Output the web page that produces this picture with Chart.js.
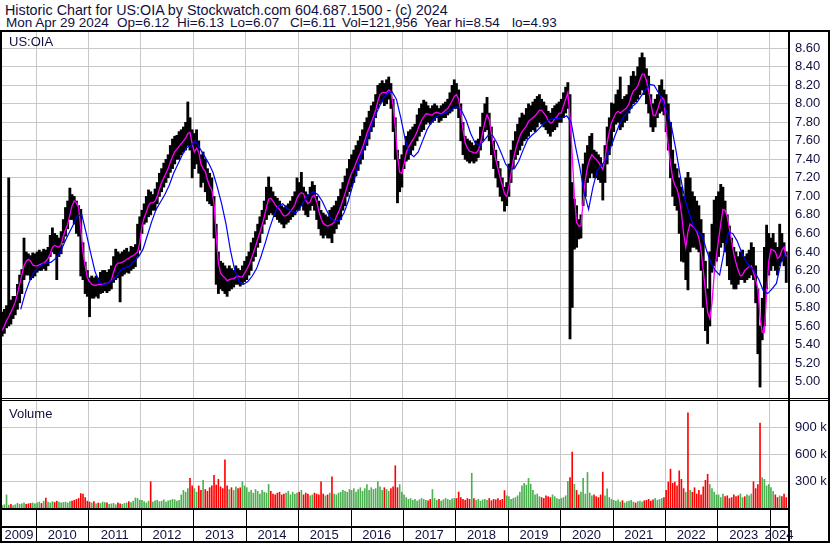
<!DOCTYPE html>
<html>
<head>
<meta charset="utf-8">
<title>US:OIA historic chart</title>
<script src="https://cdn.jsdelivr.net/npm/chart.js@4.4.1/dist/chart.umd.min.js"></script>
<style>
  body { margin: 0; background: #fff; }
  #wrap { position: relative; width: 830px; height: 543px; overflow: hidden; background: #fff;
          font-family: "Liberation Sans", Arial, sans-serif; color: #101040; }
  canvas { position: absolute; }
  .txt { position: absolute; font-size: 13px; line-height: 15px; white-space: pre; }
  .hd { position: absolute; font-size: 14.3px; line-height: 16px; white-space: pre; }
  .hd2 { position: absolute; font-size: 13.5px; line-height: 16px; white-space: pre; top: 15px; }
  .ln { position: absolute; background: #000; }
</style>
</head>
<body>
<div id="wrap">
  <div class="hd" style="left:5px;top:2px">Historic Chart for US:OIA by Stockwatch.com 604.687.1500 - (c) 2024</div>
  <div class="hd2" style="left:6px">Mon Apr 29 2024</div>
  <div class="hd2" style="left:117px">Op=6.12</div>
  <div class="hd2" style="left:177px">Hi=6.13</div>
  <div class="hd2" style="left:230px">Lo=6.07</div>
  <div class="hd2" style="left:290px">Cl=6.11</div>
  <div class="hd2" style="left:342px">Vol=121,956</div>
  <div class="hd2" style="left:424px">Year hi=8.54</div>
  <div class="hd2" style="left:512px">lo=4.93</div>

  <canvas id="price" width="826" height="366" style="left:2px;top:32px;width:826px;height:366px"></canvas>
  <canvas id="volume" width="826" height="142" style="left:2px;top:401px;width:826px;height:142px"></canvas>

  <div class="txt" style="left:9px;top:34px">US:OIA</div>
  <div class="txt" style="left:9px;top:406px">Volume</div>

  <!-- frame -->
  <div class="ln" style="left:0;top:30px;width:830px;height:2px"></div>
  <div class="ln" style="left:0;top:30px;width:2px;height:513px"></div>
  <div class="ln" style="left:828px;top:30px;width:2px;height:513px"></div>
  <div class="ln" style="left:0;top:541px;width:830px;height:2px"></div>
  <div class="ln" style="left:788px;top:30px;width:2px;height:513px"></div>
  <div class="ln" style="left:0;top:398px;width:830px;height:1px"></div>
  <div class="ln" style="left:0;top:400px;width:830px;height:1px"></div>
</div>

<script>
// ---- data (half-month slots from May 2009 to Apr 2024) ----
const years = ['2009', '2010', '2011', '2012', '2013', '2014', '2015', '2016',
               '2017', '2018', '2019', '2020', '2021', '2022', '2023', '2024'];

const priceTicks = [5.00, 5.20, 5.40, 5.60, 5.80, 6.00, 6.20, 6.40, 6.60, 6.80,
                    7.00, 7.20, 7.40, 7.60, 7.80, 8.00, 8.20, 8.40, 8.60];
const volumeTicks = [300, 600, 900]; // thousands

// low of each half month
const lows = [
  5.49, 5.52, 5.58, 5.60, 5.62, 5.68, 5.72, 5.78, 5.85, 5.95, 6.10, 6.15, 6.15, 6.10, 6.12, 6.14,
  6.18, 6.20, 6.20, 6.22, 6.20, 6.25, 6.35, 6.40, 6.38, 6.10, 6.35, 6.38, 6.50, 6.57, 6.65, 6.75, 6.75, 6.70, 6.60, 6.57, 6.14, 6.10, 5.95, 5.92,
  5.70, 5.90, 5.90, 5.92, 5.90, 5.95, 5.96, 5.98, 5.96, 5.98, 6.00, 6.07, 6.10, 6.12, 5.86, 6.14, 6.16, 6.18, 6.17, 6.20, 6.22, 6.24, 6.35, 6.42,
  6.60, 6.70, 6.72, 6.78, 6.80, 6.85, 6.85, 6.92, 7.00, 7.05, 7.10, 7.15, 7.20, 7.26, 7.30, 7.35, 7.40, 7.40, 7.45, 7.48, 7.50, 7.55, 7.50, 7.20,
  7.30, 7.35, 7.25, 7.10, 7.15, 7.05, 6.95, 6.92, 6.90, 6.55, 6.05, 5.95, 6.00, 5.98, 5.95, 5.92, 5.98, 6.00, 6.02, 6.05, 6.05, 6.03, 6.05, 6.08,
  6.10, 6.15, 6.20, 6.30, 6.35, 6.45, 6.50, 6.60, 6.70, 6.75, 6.80, 6.82, 6.80, 6.78, 6.75, 6.72, 6.70, 6.66, 6.70, 6.72, 6.75, 6.78, 6.80, 6.85,
  6.85, 6.90, 6.85, 6.80, 6.78, 6.85, 6.90, 6.85, 6.75, 6.65, 6.58, 6.55, 6.58, 6.55, 6.55, 6.50, 6.60, 6.65, 6.70, 6.75, 6.85, 6.90, 7.00, 7.05,
  7.10, 7.15, 7.22, 7.28, 7.35, 7.40, 7.50, 7.55, 7.62, 7.70, 7.75, 7.85, 7.95, 8.00, 8.02, 7.98, 8.00, 8.05, 7.95, 7.70, 7.40, 6.93, 7.05, 7.10,
  7.30, 7.38, 7.40, 7.45, 7.50, 7.55, 7.60, 7.65, 7.70, 7.72, 7.78, 7.80, 7.78, 7.80, 7.82, 7.85, 7.80, 7.82, 7.85, 7.85, 7.88, 7.90, 7.92, 7.95,
  7.95, 7.85, 7.60, 7.45, 7.40, 7.38, 7.36, 7.38, 7.36, 7.38, 7.42, 7.50, 7.60, 7.70, 7.72, 7.60, 7.45, 7.30, 7.20, 7.10, 7.00, 6.95, 6.84, 6.90,
  7.00, 7.15, 7.30, 7.40, 7.45, 7.50, 7.55, 7.60, 7.62, 7.65, 7.70, 7.72, 7.70, 7.75, 7.80, 7.78, 7.75, 7.72, 7.68, 7.65, 7.70, 7.72, 7.75, 7.80,
  7.80, 7.85, 7.90, 7.95, 5.46, 5.80, 6.43, 6.45, 6.54, 6.55, 6.90, 7.00, 7.15, 7.20, 7.25, 7.20, 7.20, 7.18, 7.15, 6.96, 7.15, 7.35, 7.45, 7.55,
  7.70, 7.78, 7.80, 7.72, 7.75, 7.80, 7.82, 7.90, 7.95, 8.00, 8.02, 8.05, 8.10, 8.15, 8.10, 8.00, 7.90, 7.75, 7.70, 7.75, 7.85, 7.90, 7.92, 7.88,
  7.70, 7.50, 7.20, 7.00, 6.90, 6.85, 6.60, 6.30, 6.29, 6.10, 5.99, 6.40, 6.45, 6.45, 6.43, 6.40, 6.20, 5.80, 5.55, 5.41, 5.60, 6.18, 6.25, 6.30,
  6.35, 6.45, 6.50, 6.40, 6.25, 6.10, 6.05, 6.00, 6.00, 6.05, 6.10, 6.10, 6.07, 6.10, 6.12, 6.15, 6.10, 5.85, 5.30, 4.94, 5.45, 5.60, 6.00, 6.15,
  6.20, 6.25, 6.20, 6.15, 6.25, 6.30, 6.25, 6.07
];

// high of each half month
const highs = [
  5.75, 5.78, 5.82, 7.20, 5.88, 5.92, 5.92, 6.05, 6.15, 6.21, 6.55, 6.40, 6.38, 6.36, 6.39, 6.38,
  6.40, 6.42, 6.40, 6.43, 6.42, 6.45, 6.58, 6.66, 6.60, 6.58, 6.55, 6.62, 6.75, 6.88, 6.95, 7.09, 7.02, 7.00, 6.95, 6.90, 6.86, 6.50, 6.29, 6.20,
  6.12, 6.14, 6.12, 6.14, 6.12, 6.18, 6.20, 6.20, 6.18, 6.21, 6.25, 6.35, 6.43, 6.40, 6.38, 6.40, 6.42, 6.44, 6.40, 6.46, 6.45, 6.48, 6.70, 6.78,
  6.85, 6.92, 7.00, 7.07, 7.05, 7.02, 7.08, 7.15, 7.25, 7.30, 7.36, 7.40, 7.45, 7.55, 7.62, 7.65, 7.66, 7.70, 7.72, 7.75, 7.80, 8.02, 7.85, 7.72,
  7.68, 7.72, 7.60, 7.45, 7.48, 7.40, 7.30, 7.25, 7.20, 7.00, 6.70, 6.40, 6.30, 6.28, 6.25, 6.22, 6.25, 6.22, 6.20, 6.25, 6.22, 6.20, 6.25, 6.30,
  6.35, 6.40, 6.50, 6.55, 6.62, 6.70, 6.78, 6.85, 6.95, 7.10, 7.21, 7.10, 7.05, 7.00, 6.98, 6.95, 6.90, 6.88, 6.90, 6.92, 6.95, 7.00, 7.05, 7.20,
  7.15, 7.26, 7.10, 7.05, 7.02, 7.10, 7.16, 7.12, 7.00, 6.95, 6.85, 6.82, 6.80, 6.78, 6.85, 6.88, 6.90, 6.95, 7.00, 7.08, 7.15, 7.22, 7.30, 7.40,
  7.45, 7.50, 7.55, 7.60, 7.65, 7.72, 7.80, 7.85, 7.92, 7.98, 8.02, 8.10, 8.20, 8.22, 8.25, 8.22, 8.26, 8.29, 8.22, 8.05, 7.85, 7.50, 7.40, 7.45,
  7.55, 7.65, 7.70, 7.72, 7.75, 7.78, 7.88, 7.95, 8.00, 8.04, 8.02, 7.98, 7.95, 7.98, 8.00, 7.98, 7.95, 7.98, 8.00, 8.02, 8.05, 8.12, 8.20, 8.26,
  8.22, 8.15, 8.00, 7.80, 7.65, 7.62, 7.60, 7.58, 7.55, 7.60, 7.62, 7.75, 7.90, 8.00, 8.07, 7.90, 7.75, 7.60, 7.50, 7.38, 7.30, 7.20, 7.10, 7.15,
  7.35, 7.50, 7.60, 7.70, 7.78, 7.85, 7.90, 7.88, 7.95, 8.00, 7.98, 8.02, 8.05, 8.08, 8.10, 8.05, 8.02, 7.98, 7.92, 7.90, 7.95, 7.98, 8.00, 8.02,
  8.05, 8.12, 8.18, 8.23, 8.10, 7.15, 6.97, 6.90, 6.75, 6.80, 7.35, 7.47, 7.55, 7.65, 7.68, 7.50, 7.48, 7.45, 7.42, 7.35, 7.55, 7.75, 7.85, 8.01,
  8.00, 8.10, 8.15, 8.29, 8.05, 8.08, 8.10, 8.20, 8.30, 8.35, 8.30, 8.40, 8.50, 8.55, 8.50, 8.38, 8.30, 8.10, 8.00, 8.05, 8.10, 8.20, 8.26, 8.15,
  8.10, 8.00, 7.80, 7.50, 7.35, 7.30, 7.20, 7.10, 7.00, 7.20, 7.26, 7.20, 7.05, 7.00, 6.95, 6.90, 6.75, 6.60, 6.30, 6.00, 6.40, 6.70, 6.96, 7.00,
  7.05, 7.13, 7.10, 6.95, 6.80, 6.68, 6.55, 6.45, 6.40, 6.35, 6.40, 6.42, 6.35, 6.38, 6.42, 6.50, 6.45, 6.25, 6.00, 5.60, 5.90, 6.45, 6.69, 6.60,
  6.55, 6.60, 6.50, 6.45, 6.70, 6.60, 6.50, 6.40
];

// magenta short average, per half month
const shortAvg = [
  5.55, 5.60, 5.66, 5.70, 5.75, 5.80, 5.86, 5.95, 6.05, 6.15, 6.25, 6.30, 6.32, 6.30, 6.26, 6.25,
  6.25, 6.26, 6.27, 6.28, 6.30, 6.33, 6.38, 6.45, 6.47, 6.46, 6.45, 6.48, 6.57, 6.64, 6.70, 6.80, 6.90, 6.95, 6.93, 6.88, 6.65, 6.39, 6.25, 6.12,
  6.08, 6.05, 6.04, 6.04, 6.05, 6.05, 6.05, 6.06, 6.06, 6.07, 6.10, 6.18, 6.25, 6.28, 6.28, 6.29, 6.30, 6.32, 6.33, 6.35, 6.36, 6.38, 6.40, 6.50,
  6.68, 6.77, 6.83, 6.90, 6.93, 6.93, 6.95, 7.00, 7.08, 7.15, 7.20, 7.25, 7.30, 7.37, 7.43, 7.48, 7.51, 7.54, 7.57, 7.60, 7.63, 7.68, 7.69, 7.57,
  7.48, 7.52, 7.48, 7.35, 7.30, 7.27, 7.18, 7.11, 7.07, 6.92, 6.58, 6.28, 6.17, 6.14, 6.12, 6.09, 6.10, 6.11, 6.11, 6.13, 6.14, 6.13, 6.13, 6.17,
  6.21, 6.26, 6.32, 6.39, 6.46, 6.54, 6.61, 6.69, 6.78, 6.88, 6.97, 6.98, 6.95, 6.91, 6.88, 6.86, 6.82, 6.79, 6.79, 6.81, 6.84, 6.87, 6.91, 6.98,
  7.02, 7.04, 7.03, 6.96, 6.92, 6.94, 7.00, 7.01, 6.94, 6.84, 6.76, 6.71, 6.69, 6.68, 6.69, 6.70, 6.72, 6.78, 6.83, 6.89, 6.96, 7.03, 7.11, 7.19,
  7.25, 7.30, 7.36, 7.42, 7.47, 7.53, 7.60, 7.68, 7.74, 7.80, 7.86, 7.93, 8.03, 8.10, 8.12, 8.12, 8.12, 8.15, 8.13, 7.98, 7.75, 7.44, 7.26, 7.25,
  7.35, 7.47, 7.53, 7.57, 7.61, 7.65, 7.70, 7.77, 7.82, 7.86, 7.89, 7.89, 7.88, 7.88, 7.90, 7.91, 7.90, 7.89, 7.91, 7.93, 7.95, 7.99, 8.03, 8.08,
  8.10, 8.05, 7.90, 7.72, 7.58, 7.52, 7.49, 7.48, 7.47, 7.47, 7.50, 7.57, 7.69, 7.80, 7.88, 7.83, 7.68, 7.53, 7.40, 7.30, 7.20, 7.12, 7.03, 7.00,
  7.10, 7.25, 7.39, 7.50, 7.58, 7.65, 7.70, 7.73, 7.76, 7.81, 7.83, 7.85, 7.87, 7.90, 7.93, 7.93, 7.90, 7.87, 7.82, 7.79, 7.80, 7.84, 7.86, 7.90,
  7.90, 7.98, 8.05, 8.12, 7.85, 7.45, 7.00, 6.72, 6.68, 6.68, 6.95, 7.18, 7.32, 7.40, 7.45, 7.42, 7.40, 7.37, 7.33, 7.29, 7.40, 7.58, 7.70, 7.80,
  7.85, 7.90, 7.92, 7.90, 7.92, 7.94, 7.96, 8.00, 8.08, 8.14, 8.16, 8.19, 8.26, 8.32, 8.32, 8.25, 8.14, 8.01, 7.88, 7.87, 7.93, 8.01, 8.07, 8.05,
  7.75, 7.55, 7.35, 7.20, 7.12, 7.08, 6.98, 6.82, 6.60, 6.45, 6.62, 6.70, 6.68, 6.66, 6.62, 6.55, 6.42, 6.20, 5.98, 5.75, 5.68, 5.85, 6.15, 6.35,
  6.53, 6.70, 6.86, 6.85, 6.78, 6.65, 6.52, 6.38, 6.28, 6.20, 6.14, 6.15, 6.20, 6.22, 6.24, 6.25, 6.18, 6.10, 6.00, 5.70, 5.53, 5.53, 5.95, 6.30,
  6.43, 6.42, 6.40, 6.33, 6.35, 6.42, 6.45, 6.35
];

// blue long average, per month (starts once enough history exists)
const longAvg = [
  null, null, null, null, 5.78, 5.95, 6.08, 6.18,
  6.23, 6.27, 6.28, 6.29, 6.33, 6.39, 6.50, 6.60, 6.69, 6.79, 6.80, 6.60,
  6.39, 6.19, 6.07, 6.05, 6.06, 6.10, 6.14, 6.21, 6.23, 6.25, 6.30, 6.35,
  6.43, 6.58, 6.73, 6.86, 6.94, 7.02, 7.12, 7.25, 7.35, 7.45, 7.53, 7.55,
  7.60, 7.52, 7.44, 7.36, 7.26, 7.10, 6.92, 6.70, 6.42, 6.20, 6.08, 6.05,
  6.08, 6.14, 6.22, 6.35, 6.50, 6.66, 6.80, 6.90, 6.92, 6.87, 6.84, 6.82,
  6.88, 6.96, 7.02, 7.05, 7.02, 6.95, 6.85, 6.76, 6.73, 6.74, 6.82, 6.95,
  7.12, 7.30, 7.45, 7.58, 7.72, 7.85, 7.96, 8.06, 8.12, 8.13, 8.05, 7.85,
  7.62, 7.47, 7.43, 7.48, 7.60, 7.72, 7.80, 7.86, 7.88, 7.90, 7.92, 7.95,
  7.97, 7.92, 7.82, 7.68, 7.58, 7.55, 7.60, 7.66, 7.66, 7.58, 7.47, 7.35,
  7.29, 7.30, 7.38, 7.50, 7.61, 7.66, 7.70, 7.75, 7.80, 7.83, 7.84, 7.84,
  7.85, 7.87, 7.80, 7.54, 7.31, 7.04, 6.86, 7.10, 7.28, 7.34, 7.40, 7.52,
  7.65, 7.77, 7.86, 7.91, 7.97, 8.01, 8.08, 8.15, 8.21, 8.20, 8.12, 8.03,
  7.90, 7.75, 7.50, 7.22, 6.98, 6.82, 6.68, 6.62, 6.58, 6.42, 6.28, 6.20,
  6.15, 6.40, 6.61, 6.60, 6.52, 6.40, 6.30, 6.24, 6.19, 6.10, 5.98, 5.95,
  6.00, 6.06, 6.28, 6.38
];

// volume per half month, thousands of shares
const volumes = [
  30, 40, 150, 35, 45, 30, 40, 55, 45, 50, 60, 45, 50, 55, 60, 50,
  60, 70, 55, 80, 115, 70, 60, 75, 65, 80, 70, 60, 65, 70, 60, 75, 80, 90, 100, 110, 165, 160, 120, 80,
  70, 60, 75, 50, 60, 55, 70, 65, 60, 45, 50, 55, 40, 60, 50, 45, 55, 60, 75, 65, 80, 115, 110, 90,
  90, 75, 60, 80, 296, 70, 85, 90, 75, 80, 95, 70, 85, 90, 100, 95, 80, 90, 150, 200, 180, 220, 334, 250,
  220, 180, 250, 200, 311, 210, 190, 230, 250, 368, 260, 323, 240, 220, 540, 250, 210, 230, 200, 240, 220, 230, 296, 250,
  230, 180, 200, 170, 210, 190, 160, 200, 180, 170, 266, 190, 160, 150, 170, 180, 150, 160, 170, 190, 150, 180, 160, 170,
  180, 200, 150, 170, 160, 140, 150, 170, 160, 150, 296, 160, 140, 150, 170, 350, 160, 150, 170, 180, 200, 190, 180, 210,
  200, 220, 180, 210, 230, 190, 220, 266, 200, 230, 210, 220, 296, 240, 200, 230, 210, 190, 220, 240, 475, 230, 266, 180,
  150, 120, 100, 110, 90, 100, 80, 95, 110, 100, 90, 85, 100, 209, 110, 90, 100, 80, 95, 110, 100, 90, 105, 110,
  110, 182, 120, 100, 90, 110, 100, 391, 110, 90, 100, 80, 95, 100, 90, 110, 85, 100, 95, 110, 90, 100, 198, 140,
  130, 100, 110, 120, 140, 180, 250, 280, 260, 334, 270, 200, 150, 160, 130, 120, 110, 140, 130, 120, 150, 130, 110, 100,
  110, 120, 140, 300, 342, 627, 268, 200, 150, 180, 334, 160, 400, 170, 140, 150, 130, 120, 150, 403, 140, 218, 120, 100,
  90, 80, 95, 70, 85, 60, 75, 80, 90, 70, 60, 75, 80, 70, 85, 90, 100, 80, 95, 110, 90, 100, 110, 120,
  200, 293, 437, 280, 293, 250, 418, 323, 220, 180, 1064, 200, 180, 230, 160, 200, 150, 240, 312, 380, 266, 220, 180, 150,
  150, 120, 160, 130, 140, 110, 120, 150, 130, 140, 160, 120, 130, 150, 140, 160, 296, 220, 266, 950, 342, 323, 250, 266,
  230, 190, 150, 120, 140, 130, 160, 120
];

// ---- helpers ----
const START = 2009 + 4 / 12;            // May 1 2009
const X_MIN = 2009.351, X_MAX = 2024.346;
const halfMonth = i => START + (i + 0.5) / 24;
const month = m => START + (m + 0.5) / 12;

const TEXT = '#101040';
const GRID = '#c8c8c8';
const FONT = { family: '"Liberation Sans", Arial, sans-serif', size: 13 };
const yearLines = years.slice(1).map(Number);

const priceBars = lows.map((lo, i) => ({ x: halfMonth(i), y: [lo, highs[i]] }));
const shortPts = shortAvg.map((v, i) => ({ x: halfMonth(i), y: v }));
const longPts = longAvg.map((v, m) => ({ x: month(m), y: v })).filter(p => p.y !== null);
const mid = i => (lows[i] + highs[i]) / 2;
const volBars = volumes.map((v, i) => ({ x: halfMonth(i), y: v }));
const volColors = volumes.map((v, i) => (i === 0 || mid(i) >= mid(i - 1)) ? '#4caf50' : '#ff0000');

const xAxis = {
  type: 'linear', min: X_MIN, max: X_MAX, offset: false,
  afterBuildTicks: s => { s.ticks = yearLines.map(v => ({ value: v })); },
  afterFit: s => { s.height = 0; },
  ticks: { display: false },
  grid: { color: GRID, drawTicks: false, offset: false },
  border: { display: false }
};

function yAxis(min, max, ticks, fmt) {
  return {
    position: 'right', min: min, max: max, beginAtZero: false,
    afterBuildTicks: s => { s.ticks = ticks.map(v => ({ value: v })); },
    afterFit: s => { s.width = 40; s.paddingTop = 0; s.paddingBottom = 0; },
    ticks: { padding: 7, color: TEXT, font: FONT, callback: fmt },
    grid: { color: GRID, drawTicks: false },
    border: { display: false }
  };
}

Chart.defaults.animation = false;

// price panel
new Chart(document.getElementById('price'), {
  type: 'bar',
  data: {
    datasets: [
      { type: 'line', data: longPts, borderColor: '#0000ff', borderWidth: 1.2, pointRadius: 0, order: 1 },
      { type: 'line', data: shortPts, borderColor: '#ff00ff', borderWidth: 1.3, pointRadius: 0, order: 2 },
      { type: 'bar', data: priceBars, backgroundColor: '#000', barPercentage: 1, categoryPercentage: 1, order: 3 }
    ]
  },
  options: {
    responsive: false,
    devicePixelRatio: 1,
    layout: { padding: 0, autoPadding: false },
    plugins: { legend: { display: false }, tooltip: { enabled: false } },
    scales: {
      x: xAxis,
      y: yAxis(4.822, 8.776, priceTicks, v => v.toFixed(2))
    }
  }
});

// year strip under the volume panel
const yearStrip = {
  id: 'yearStrip',
  afterDraw(chart) {
    const { ctx, chartArea, scales: { x } } = chart;
    const top = chartArea.bottom;
    const bottom = chart.height;
    ctx.save();
    ctx.fillStyle = '#000';
    ctx.fillRect(0, top, chartArea.right, 2);
    ctx.fillRect(0, top + 18, chartArea.right, 2);
    ctx.font = '13px "Liberation Sans", Arial, sans-serif';
    ctx.textAlign = 'center';
    ctx.textBaseline = 'alphabetic';
    years.forEach(label => {
      const yr = Number(label);
      const left = Math.max(x.getPixelForValue(yr), chartArea.left);
      const right = Math.min(x.getPixelForValue(yr + 1), chartArea.right);
      ctx.fillStyle = '#000';
      if (yr > 2009) ctx.fillRect(Math.round(left), top, 1, bottom - top);
      ctx.fillStyle = TEXT;
      ctx.fillText(label, (left + right) / 2, bottom - 4);
    });
    ctx.restore();
  }
};

// volume panel
new Chart(document.getElementById('volume'), {
  type: 'bar',
  data: {
    datasets: [
      { data: volBars, backgroundColor: volColors, barPercentage: 0.75, categoryPercentage: 1 }
    ]
  },
  options: {
    responsive: false,
    devicePixelRatio: 1,
    layout: { padding: { bottom: 35 }, autoPadding: false },
    plugins: { legend: { display: false }, tooltip: { enabled: false } },
    scales: {
      x: xAxis,
      y: yAxis(0, 1193, volumeTicks, v => v + ' k')
    }
  },
  plugins: [yearStrip]
});
</script>
</body>
</html>
